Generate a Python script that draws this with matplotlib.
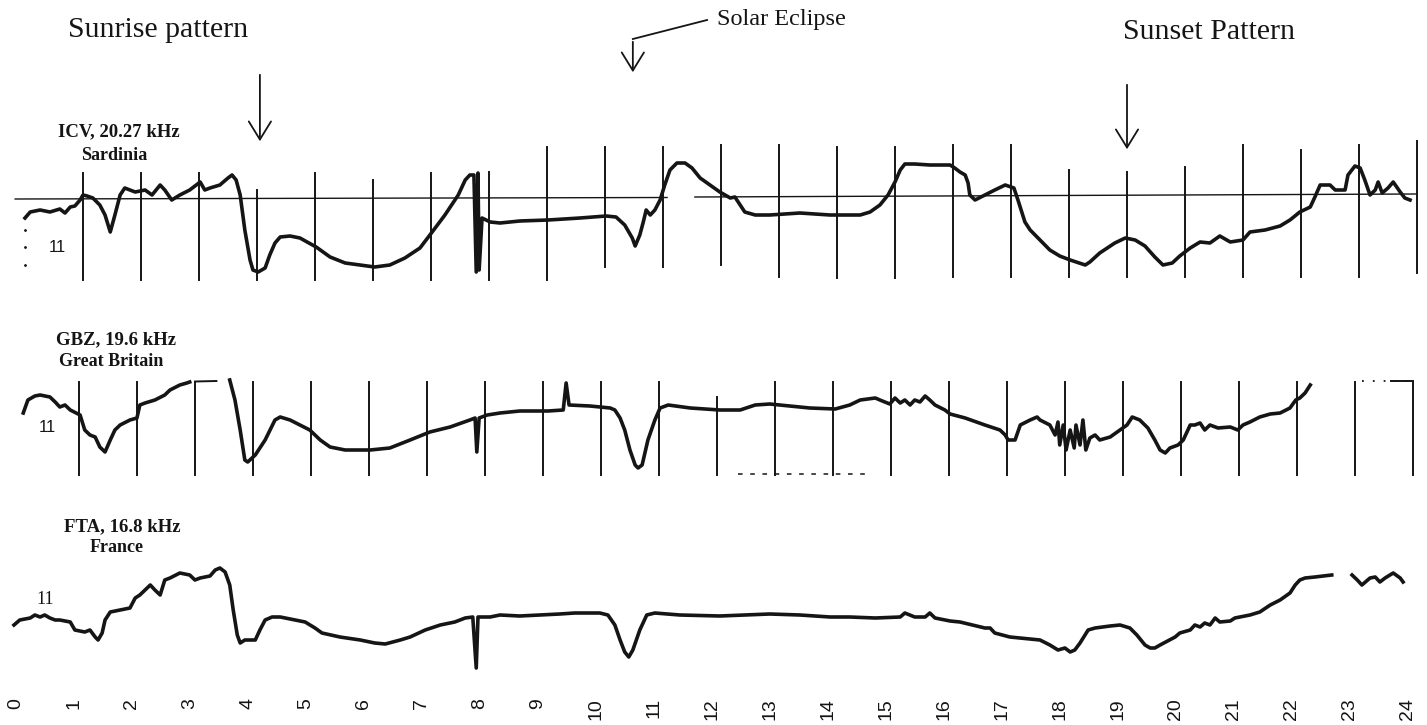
import numpy as np
import matplotlib.pyplot as plt
from matplotlib.patches import FancyArrowPatch

# Registros VLF: hora (UT) y amplitud relativa (unidades arbitrarias)
icv_h = [0.00, 0.09, 0.26, 0.43, 0.60, 0.69, 0.78, 0.86, 0.95, 1.00, 1.07, 1.17, 1.29, 1.38, 1.47,
         1.55, 1.64, 1.72, 1.90, 2.07, 2.19, 2.33, 2.41, 2.53, 2.67, 2.84, 3.02, 3.10, 3.19, 3.36,
         3.50, 3.57, 3.64, 3.71, 3.79, 3.88, 3.93, 4.02, 4.14, 4.22, 4.31, 4.40, 4.57, 4.74, 5.02,
         5.26, 5.52, 5.78, 6.03, 6.29, 6.55, 6.81, 7.02, 7.24, 7.47, 7.59, 7.67, 7.74, 7.78, 7.81,
         7.83, 7.88, 8.02, 8.19, 8.53, 9.02, 9.57, 10.02, 10.19, 10.34, 10.47, 10.52, 10.60, 10.66,
         10.71, 10.78, 10.86, 10.95, 11.03, 11.12, 11.24, 11.38, 11.50, 11.64, 11.81, 11.98, 12.16,
         12.24, 12.33, 12.41, 12.59, 12.84, 13.36, 13.88, 14.40, 14.57, 14.74, 14.88, 15.00, 15.09,
         15.17, 15.34, 15.60, 15.95, 16.03, 16.12, 16.21, 16.26, 16.29, 16.38, 16.55, 16.72, 16.90,
         17.05, 17.12, 17.24, 17.33, 17.50, 17.67, 17.84, 18.02, 18.28, 18.36, 18.53, 18.79, 18.97,
         19.14, 19.31, 19.48, 19.62, 19.78, 19.91, 20.09, 20.26, 20.43, 20.60, 20.78, 21.00, 21.12,
         21.38, 21.64, 21.81, 21.98, 22.16, 22.24, 22.33, 22.50, 22.59, 22.76, 22.81, 22.93, 23.02,
         23.10, 23.19, 23.28, 23.33, 23.40, 23.50, 23.59, 23.71, 23.79, 23.88]
icv_a = [-2.1, -1.5, -1.3, -1.5, -1.2, -1.6, -1.0, -0.9, -0.3, 0.2, 0.1, -0.1, -0.8, -1.8, -3.5,
         -1.8, 0.2, 0.9, 0.5, 0.7, 0.2, 1.2, 0.7, -0.3, 0.2, 0.7, 1.5, 0.7, 0.9, 1.2,
         1.9, 2.2, 1.7, 0.2, -3.3, -6.3, -7.3, -7.5, -7.1, -5.8, -4.6, -4.0, -3.9, -4.1, -5.0,
         -6.0, -6.6, -6.8, -7.0, -6.8, -6.1, -5.1, -3.5, -1.8, 0.2, 1.7, 2.2, 2.2, -7.5, 2.4,
         -7.3, -2.1, -2.5, -2.6, -2.4, -2.3, -2.1, -1.9, -2.0, -2.8, -4.1, -4.9, -3.8, -2.5,
         -1.3, -1.8, -1.3, -0.3, 1.2, 2.7, 3.4, 3.4, 2.9, 1.9, 1.2, 0.5, -0.1,
         0.0, -0.8, -1.5, -1.8, -1.8, -1.6, -1.8, -1.8, -1.5, -0.8, 0.2, 1.5, 2.7,
         3.3, 3.3, 3.2, 3.2, 2.9, 2.5, 2.2, 1.4, 0.2, -0.3, 0.2, 0.7, 1.2,
         0.9, -0.3, -2.5, -3.3, -4.3, -5.3, -5.9, -6.3, -6.8, -6.5, -5.6, -4.6, -4.1,
         -4.3, -4.9, -6.0, -6.8, -6.6, -5.9, -5.1, -4.5, -4.6, -3.9, -4.5, -4.3, -3.5,
         -3.3, -2.9, -2.3, -1.5, -1.0, 0.0, 1.2, 1.2, 0.7, 0.7, 2.2, 3.1, 2.9,
         1.7, 0.2, 0.7, 1.5, 0.4, 0.9, 1.5, 0.5, -0.1, -0.3]

gbz_h = [-0.03, 0.05, 0.17, 0.26, 0.43, 0.52, 0.60, 0.69, 0.78, 0.95, 1.03, 1.12, 1.21, 1.29, 1.38,
         1.47, 1.55, 1.64, 1.81, 1.93, 1.98, 2.07, 2.24, 2.41, 2.50, 2.67, 2.79, 2.84, np.nan,
         3.53, 3.62, 3.71, 3.79, 3.84, 3.97, 4.14, 4.31, 4.40, 4.57, 4.74, 4.91, 5.09, 5.26, 5.52,
         5.95, 6.29, 6.64, 6.98, 7.33, 7.67, 7.76, 7.79, 7.83, 7.97, 8.19, 8.53, 9.02, 9.28, 9.33,
         9.38, 9.74, 10.09, 10.17, 10.26, 10.34, 10.43, 10.52, 10.57, 10.64, 10.74, 10.86, 10.95,
         11.09, 11.47, 11.98, 12.33, 12.59, 12.84, 13.19, 13.53, 13.97, 14.22, 14.40, 14.66, 14.74,
         14.91, 15.00, 15.09, 15.17, 15.26, 15.34, 15.43, 15.52, 15.60, 15.69, 15.86, 15.95, 16.21,
         16.55, 16.81, 16.90, 16.95, 17.07, 17.16, 17.33, 17.45, 17.50, 17.67, 17.76, 17.81, 17.84,
         17.90, 17.95, 18.02, 18.09, 18.12, 18.19, 18.24, 18.29, 18.36, 18.45, 18.53, 18.71, 18.88,
         19.00, 19.09, 19.22, 19.36, 19.48, 19.57, 19.66, 19.74, 19.88, 19.97, 20.09, 20.17, 20.26,
         20.34, 20.43, 20.57, 20.78, 20.91, 21.00, 21.12, 21.29, 21.47, 21.64, 21.81, 21.91, 21.98,
         22.07, 22.16]
gbz_a = [0.7, 2.0, 2.4, 2.5, 2.3, 1.8, 1.3, 1.5, 1.0, 0.5, -1.0, -1.5, -1.7, -2.7, -3.2,
         -2.0, -1.0, -0.5, 0.0, 0.2, 1.5, 1.7, 2.0, 2.5, 3.0, 3.5, 3.7, 3.8, np.nan,
         4.0, 2.0, -1.0, -4.0, -4.2, -3.5, -2.0, 0.0, 0.3, 0.0, -0.5, -1.0, -2.0, -2.7, -3.0,
         -3.0, -2.8, -2.0, -1.2, -0.7, 0.0, 0.2, -3.2, 0.2, 0.5, 0.7, 0.9, 0.9, 1.0, 3.7,
         1.5, 1.4, 1.2, 1.0, 0.2, -1.0, -3.0, -4.5, -4.8, -4.5, -2.0, 0.0, 1.2,
         1.5, 1.2, 1.0, 1.0, 1.5, 1.6, 1.4, 1.2, 1.1, 1.5, 2.0, 2.2, 2.0,
         1.6, 2.2, 1.7, 2.0, 1.5, 2.0, 1.8, 2.4, 2.0, 1.5, 1.0, 0.6, 0.2,
         -0.5, -1.0, -1.5, -2.0, -2.0, -0.5, 0.0, 0.3, 0.0, -0.5, -1.5, -0.2, -2.5,
         -0.5, -3.0, -1.0, -2.8, -0.5, -2.5, 0.0, -3.0, -1.8, -1.5, -2.0, -1.7, -1.0,
         -0.5, 0.3, 0.0, -0.8, -2.0, -3.0, -3.3, -2.8, -2.5, -2.0, -0.5, -0.5, -0.3,
         -1.0, -0.5, -0.8, -0.7, -1.0, -0.5, -0.2, 0.3, 0.6, 0.7, 1.2, 2.0, 2.2,
         2.7, 3.5]

fta_h = [-0.19, -0.09, 0.09, 0.17, 0.26, 0.34, 0.43, 0.52, 0.60, 0.78, 0.86, 1.03, 1.12, 1.21, 1.26,
         1.33, 1.38, 1.47, 1.64, 1.81, 1.90, 1.98, 2.07, 2.16, 2.24, 2.33, 2.41, 2.50, 2.67, 2.84,
         2.93, 3.02, 3.19, 3.28, 3.36, 3.45, 3.53, 3.59, 3.66, 3.71, 3.79, 3.97, 4.05, 4.14, 4.26,
         4.40, 4.66, 4.83, 5.00, 5.12, 5.43, 5.78, 6.03, 6.21, 6.47, 6.64, 6.90, 7.16, 7.41, 7.59,
         7.72, 7.78, 7.81, 8.02, 8.19, 8.53, 8.88, 9.22, 9.48, 9.91, 10.05, 10.17, 10.26, 10.34,
         10.41, 10.48, 10.60, 10.72, 10.86, 11.29, 11.98, 12.84, 13.36, 13.88, 14.22, 14.66, 15.09,
         15.17, 15.34, 15.52, 15.60, 15.69, 15.95, 16.12, 16.55, 16.64, 16.72, 16.98, 17.50, 17.67,
         17.81, 17.93, 18.02, 18.10, 18.19, 18.33, 18.45, 18.71, 18.88, 19.05, 19.17, 19.31, 19.40,
         19.48, 19.57, 19.83, 19.91, 20.09, 20.17, 20.26, 20.34, 20.43, 20.52, 20.60, 20.78, 20.86,
         20.95, 21.12, 21.29, 21.47, 21.64, 21.81, 21.90, 21.98, 22.07, 22.24, 22.53, np.nan,
         22.88, 22.97, 23.05, 23.19, 23.28, 23.36, 23.45, 23.59, 23.71, 23.76]
fta_a = [-0.5, 0.0, 0.2, 0.5, 0.3, 0.5, 0.2, 0.0, 0.0, -0.2, -1.0, -1.2, -1.0, -1.7, -2.0,
         -1.3, 0.0, 0.8, 1.0, 1.2, 2.2, 2.5, 3.0, 3.5, 3.0, 2.5, 4.0, 4.2, 4.7, 4.5,
         4.0, 4.2, 4.4, 5.0, 5.2, 4.8, 3.5, 1.0, -1.5, -2.3, -2.0, -2.0, -1.0, 0.0, 0.3,
         0.3, 0.0, -0.2, -0.8, -1.3, -1.7, -2.0, -2.3, -2.4, -2.0, -1.7, -1.0, -0.5, -0.2, 0.2,
         0.3, -4.8, 0.3, 0.3, 0.5, 0.4, 0.5, 0.6, 0.7, 0.7, 0.5, -0.5, -2.0, -3.2,
         -3.7, -3.0, -1.0, 0.5, 0.7, 0.5, 0.4, 0.6, 0.5, 0.3, 0.3, 0.2, 0.3,
         0.7, 0.3, 0.3, 0.7, 0.2, -0.1, -0.2, -0.8, -0.8, -1.3, -1.7, -2.0, -2.5,
         -3.0, -2.8, -3.2, -3.0, -2.3, -1.0, -0.8, -0.6, -0.5, -0.8, -1.5, -2.5, -2.8,
         -2.8, -2.5, -1.7, -1.3, -1.0, -0.5, -0.7, -0.3, -0.5, 0.2, -0.2, -0.1, 0.2,
         0.3, 0.5, 0.8, 1.5, 2.0, 2.7, 3.5, 4.0, 4.2, 4.3, 4.5, np.nan,
         4.5, 4.0, 3.5, 4.2, 4.3, 3.8, 4.2, 4.7, 4.2, 3.8]

hours = list(range(25))
grid_hours = list(range(1, 25))
icv_grid_top = [2.4, 2.4, 2.4, 0.7, 2.4, 1.7, 2.4, 2.5, 5.0, 5.0, 5.0, 5.2,
                5.2, 5.0, 5.0, 5.2, 5.2, 2.7, 2.5, 3.0, 5.2, 4.7, 5.2, 5.6]
icv_grid_bot = [-8.3, -8.3, -8.3, -8.3, -8.3, -8.3, -8.3, -8.3, -8.3, -7.0, -7.0, -6.8,
                -8.0, -8.1, -8.1, -8.0, -8.0, -8.0, -8.0, -8.0, -8.0, -8.0, -8.0, -7.6]
gbz_grid_top = [3.8] * 11 + [2.3] + [3.8] * 12
gbz_grid_bot = [-5.5] * 24

stations = [("ICV, 20.27 kHz", "Sardinia"), ("GBZ, 19.6 kHz", "Great Britain"), ("FTA, 16.8 kHz", "France")]

W, H = 1427, 725
fig = plt.figure(figsize=(W / 100, H / 100), dpi=100)
ax = fig.add_axes([0, 1 - 698 / H, 1, 698 / H])
ax.set_xlim(-25 / 58, 1402 / 58)
ax.set_ylim(69.8, 0)
for s in ax.spines.values():
    s.set_visible(False)
ax.set_yticks([])

ink = "#151515"
base = [19.7, 42.0, 62.0]   # nivel de referencia de cada registro (posición vertical)

def px(x, y):
    return x / W, 1 - y / H

# --- ICV (Cerdeña) ---
b = base[0]
for h, t, bt in zip(grid_hours, icv_grid_top, icv_grid_bot):
    ax.plot([h, h], [b - t, b - bt], color=ink, lw=1.4)
ax.plot([-0.17, 11.07], [b + 0.2, b + 0.05], color=ink, lw=1.0)
ax.plot([11.55, 24.0], [b, b - 0.3], color=ink, lw=1.0)
ax.plot(icv_h, b - np.array(icv_a), color=ink, lw=2.6, solid_joinstyle="round")
ax.plot([0, 0, 0], [23.0, 24.7, 26.5], ls="none", marker="o", ms=1.0, color=ink)

# --- GBZ (Gran Bretaña) ---
b = base[1]
for h, t, bt in zip(grid_hours, gbz_grid_top, gbz_grid_bot):
    ax.plot([h - 0.07, h - 0.07], [b - t, b - bt], color=ink, lw=1.4)
ax.plot([2.93, 3.3], [b - 3.85, b - 3.9], color=ink, lw=1.4)
ax.plot([23.05, 23.9], [b - 3.9, b - 3.9], color=ink, lw=1.3, ls=(0, (1, 5)))
ax.plot([23.55, 23.93], [b - 3.9, b - 3.9], color=ink, lw=1.4)
ax.plot([12.3, 14.55], [b + 5.35, b + 5.35], color=ink, lw=1.1, ls=(0, (3, 5)))
ax.plot(gbz_h, b - np.array(gbz_a), color=ink, lw=2.6, solid_joinstyle="round")

# --- FTA (Francia) ---
b = base[2]
ax.plot(fta_h, b - np.array(fta_a), color=ink, lw=2.6, solid_joinstyle="round")

# eje de horas
ax.set_xticks(np.array(hours) - 0.16)
ax.set_xticklabels([str(h) for h in hours], rotation=90, family="Liberation Sans",
                   fontsize=14, color=ink)
ax.tick_params(axis="x", length=0, pad=0)

# etiquetas "11"
ax.text(0.55, 24.7, "11", family="Liberation Sans", fontsize=12, color=ink, ha="center", va="center")
ax.text(0.38, 42.8, "11", family="Liberation Sans", fontsize=12, color=ink, ha="center", va="center")
ax.text(0.35, 60.0, "11", family="Liberation Serif", fontsize=13, color=ink, ha="center", va="center")

# nombres de las estaciones
serif = "Liberation Serif"
for (name, place), y1, y2, xc in zip(stations, [132, 340, 527], [155, 362, 547], [119, 116, 122]):
    fig.text(*px(xc, y1), name, family=serif, fontsize=13.5, weight="bold",
             ha="center", va="center", color=ink)
    fig.text(*px(xc - 5, y2), place, family=serif, fontsize=13, weight="bold",
             ha="center", va="center", color=ink)

# anotaciones
fig.text(*px(158, 30), "Sunrise pattern", family=serif, fontsize=21.5, ha="center", va="center", color=ink)
fig.text(*px(1209, 32), "Sunset Pattern", family=serif, fontsize=21.5, ha="center", va="center", color=ink)
fig.text(*px(717, 20), "Solar Eclipse", family=serif, fontsize=17.5, ha="left", va="center", color=ink)

arrow_kw = dict(arrowstyle="->,head_length=0.65,head_width=0.4", mutation_scale=20, color=ink, lw=1.3)
ax.add_patch(FancyArrowPatch((4.05, 7.2), (4.05, 14.4), **arrow_kw))
ax.add_patch(FancyArrowPatch((19.0, 8.2), (19.0, 15.2), **arrow_kw))
ax.plot([10.48, 11.76], [3.9, 2.0], color=ink, lw=1.3)
ax.add_patch(FancyArrowPatch((10.48, 3.9), (10.48, 7.5), **arrow_kw))

fig.savefig("out.png", dpi=100, facecolor="white")
